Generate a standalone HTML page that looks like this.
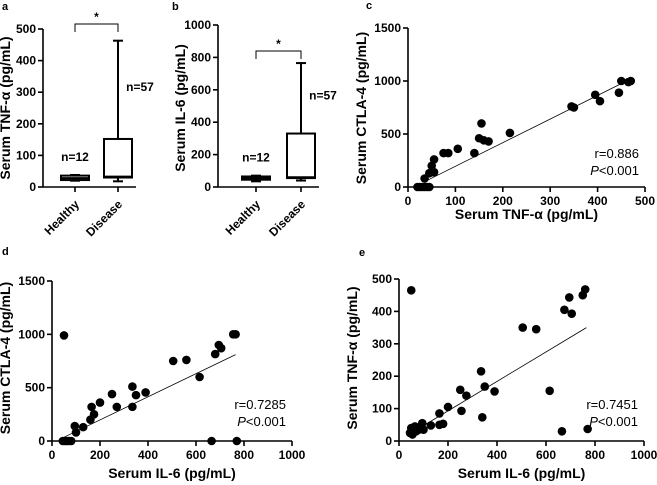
<!DOCTYPE html>
<html><head><meta charset="utf-8"><style>
body{margin:0;background:#fff}
svg{font-family:"Liberation Sans",Arial,sans-serif;display:block}
.t{font-size:12px;font-weight:bold}
.ti{font-size:14px;font-weight:bold}
.pl{font-size:11px;font-weight:bold}
</style></head><body>
<svg id="s" width="657" height="485"></svg>
<script>
const boxCats=["Healthy","Disease"];
const tnfBox=[{lo:20,q1:22,med:28,q3:36,hi:38},{lo:18,q1:30,med:33,q3:152,hi:463}];
const il6Box=[{lo:35,q1:45,med:55,q3:65,hi:70},{lo:40,q1:55,med:60,q3:330,hi:765}];
const nLabels=["n=12","n=57"];
const cX=[20,25,30,35,40,45,35,45,50,50,55,55,75,85,105,140,155,150,160,170,215,345,350,395,405,445,450,465,470];
const cY=[0,0,0,0,0,0,80,130,200,140,260,140,320,320,360,320,600,460,440,430,510,760,750,870,810,890,1000,990,1000];
const cLine=[[35,50],[470,1020]];
const dX=[45,55,60,70,80,50,95,100,130,160,165,175,200,250,270,335,335,350,390,505,560,615,680,695,705,755,765,665,770];
const dY=[0,0,0,0,0,990,140,80,130,200,320,250,360,440,320,510,320,430,455,750,760,600,815,900,870,1000,1000,0,0];
const dLine=[[45,30],[765,810]];
const eX=[50,45,50,55,50,60,65,70,80,95,100,130,165,165,180,200,250,255,275,335,340,350,390,505,560,615,665,675,695,705,750,760,770];
const eY=[465,25,30,20,40,35,45,30,35,55,35,48,85,50,53,105,158,93,140,215,73,168,153,350,345,155,30,405,443,393,450,468,37];
const eLine=[[40,20],[765,350]];

const NS="http://www.w3.org/2000/svg";
const svg=document.getElementById('s');
function el(tag,attrs,parent,text){const e=document.createElementNS(NS,tag);for(const k in attrs)e.setAttribute(k,attrs[k]);if(text!==undefined)e.textContent=text;(parent||svg).appendChild(e);return e;}
function lin(d0,d1,r0,r1){return v=>r0+(v-d0)/(d1-d0)*(r1-r0);}

function yAxis(g,x,y,ticks){
  el('line',{x1:x,y1:y(ticks[0]),x2:x,y2:y(ticks[ticks.length-1]),stroke:'#000','stroke-width':1.6},g);
  ticks.forEach(t=>{el('line',{x1:x-5,y1:y(t),x2:x,y2:y(t),stroke:'#000','stroke-width':1.6},g);
    const tx=el('text',{x:x-7,y:y(t)+4,'text-anchor':'end',class:'t'},g,t);
    
    });
}
function xAxis(g,y,x,ticks){
  el('line',{x1:x(ticks[0]),y1:y,x2:x(ticks[ticks.length-1]),y2:y,stroke:'#000','stroke-width':1.6},g);
  ticks.forEach(t=>{el('line',{x1:x(t),y1:y,x2:x(t),y2:y+5,stroke:'#000','stroke-width':1.6},g);
    const tx=el('text',{x:x(t),y:y+18,'text-anchor':'middle',class:'t'},g,t);
    
    });
}
function ytitle(g,x,cy,txt){const t=el('text',{x:0,y:0,transform:`translate(${x},${cy}) rotate(-90)`,'text-anchor':'middle',class:'ti'},g,txt);
  }
function xtitle(g,cx,y,txt){const t=el('text',{x:cx,y:y,'text-anchor':'middle',class:'ti'},g,txt);
  }

function boxPanel(name,label,lx,ax,ticks,ymax,pos,data,ttl,brY){
  const g=el('g',{});
  const y=lin(0,ymax,187,ymax==500?29:25);
  el('text',{x:lx,y:10,class:'pl'},g,label);
  yAxis(g,ax,y,ticks);
  el('line',{x1:ax,y1:187,x2:pos[1]+18,y2:187,stroke:'#000','stroke-width':1.6},g);
  data.forEach((d,i)=>{const x=pos[i],w=14;
    const bg=el('g',{},g);
    el('line',{x1:x,y1:187,x2:x,y2:192,stroke:'#000','stroke-width':1.6},bg);
    el('line',{x1:x,y1:y(d.lo),x2:x,y2:y(d.hi),stroke:'#000','stroke-width':2},bg);
    el('line',{x1:x-5,y1:y(d.lo),x2:x+5,y2:y(d.lo),stroke:'#000','stroke-width':2},bg);
    el('line',{x1:x-5,y1:y(d.hi),x2:x+5,y2:y(d.hi),stroke:'#000','stroke-width':2},bg);
    el('rect',{x:x-w,y:y(d.q3),width:2*w,height:Math.max(1,y(d.q1)-y(d.q3)),fill:'#fff',stroke:'#000','stroke-width':2},bg);
    el('line',{x1:x-w,y1:y(d.med),x2:x+w,y2:y(d.med),stroke:'#000','stroke-width':2},bg);
    const tl=el('text',{x:0,y:0,transform:`translate(${x+5},${205}) rotate(-45)`,'text-anchor':'end',class:'t'},g,boxCats[i]);
    
    const ny=i==0?y(d.hi)-14:(y(d.hi)+y(d.q3))/2+1;
    const nl=el('text',{x:i==0?x:x+22,y:ny,'text-anchor':'middle',class:'t','font-size':'11px'},g,nLabels[i]);
    
  });
  el('path',{d:`M${pos[0]},${brY+8}V${brY}H${pos[1]}V${brY+8}`,fill:'none',stroke:'#000','stroke-width':1},g);
  el('text',{x:(pos[0]+pos[1])/2,y:brY-3,'text-anchor':'middle',class:'t'},g,'*');
  ytitle(g,ax-33,108,ttl);
}
boxPanel('panel-a','a',2,43,[0,100,200,300,400,500],500,[75,118],tnfBox,'Serum TNF-α (pg/mL)',24);
boxPanel('panel-b','b',172,218,[0,200,400,600,800,1000],1000,[256,301],il6Box,'Serum IL-6 (pg/mL)',51);

function scatter(name,label,lxy,ax,ay,ax2,ay2,xmax,ymax,xt,yt,X,Y,L,r,xtt,ytt,ytx,xty,ry){
  const g=el('g',{});
  const x=lin(0,xmax,ax,ax2),y=lin(0,ymax,ay,ay2);
  el('text',{x:lxy[0],y:lxy[1],class:'pl'},g,label);
  yAxis(g,ax,y,yt);xAxis(g,ay,x,xt);
  X.forEach((v,i)=>{const c=el('circle',{cx:x(v),cy:y(Y[i]),r:4.3,fill:'#000'},g);
    });
  const ln=el('line',{x1:x(L[0][0]),y1:y(L[0][1]),x2:x(L[1][0]),y2:y(L[1][1]),stroke:'#000','stroke-width':0.8},g);
  
  const rt=el('text',{x:ax2-6,y:ry,'text-anchor':'end','font-size':'13px'},g,r);
  
  const pt=el('text',{x:ax2-6,y:ry+17,'text-anchor':'end','font-size':'13px'},g);
  el('tspan',{'font-style':'italic'},pt,'P');el('tspan',{},pt,'<0.001');
  
  ytitle(g,ax-42,ytx,ytt);xtitle(g,(ax+ax2)/2,xty,xtt);
}
scatter('panel-c','c',[366,9],408,187,645,28,500,1500,[0,100,200,300,400,500],[0,500,1000,1500],cX,cY,cLine,'r=0.886','Serum TNF-α (pg/mL)','Serum CTLA-4 (pg/mL)',108,219,158);
scatter('panel-d','d',[2,255],52,441,292,281,1000,1500,[0,200,400,600,800,1000],[0,500,1000,1500],dX,dY,dLine,'r=0.7285','Serum IL-6 (pg/mL)','Serum CTLA-4 (pg/mL)',358,478,409);
scatter('panel-e','e',[359,256],399,441,644,279,1000,500,[0,200,400,600,800,1000],[0,100,200,300,400,500],eX,eY,eLine,'r=0.7451','Serum IL-6 (pg/mL)','Serum TNF-α (pg/mL)',358,478,409);
</script>
</body></html>
